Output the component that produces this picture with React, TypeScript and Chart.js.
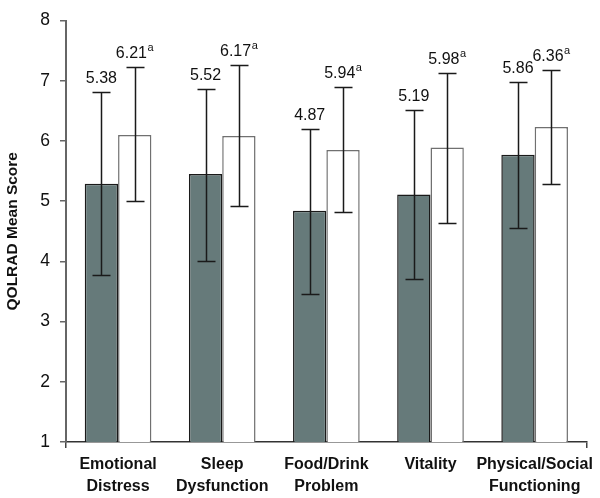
import React, { useEffect, useRef } from "react";
import { Chart, registerables } from "chart.js";

Chart.register(...registerables);

const FONT = '"Liberation Sans", Arial, Helvetica, sans-serif';

const categories: string[][] = [
  ["Emotional", "Distress"],
  ["Sleep", "Dysfunction"],
  ["Food/Drink", "Problem"],
  ["Vitality"],
  ["Physical/Social", "Functioning"],
];

// bar heights as drawn
const darkValues = [5.29, 5.45, 4.84, 5.11, 5.77];
const whiteValues = [6.1, 6.08, 5.85, 5.89, 6.23];

// error bar ends
const darkLow = [3.78, 4.01, 3.46, 3.71, 4.56];
const darkHigh = [6.82, 6.87, 6.19, 6.52, 6.98];
const whiteLow = [5.0, 4.92, 4.82, 4.64, 5.28];
const whiteHigh = [7.22, 7.26, 6.9, 7.13, 7.18];

// printed value labels
const darkLabels = ["5.38", "5.52", "4.87", "5.19", "5.86"];
const whiteLabels = ["6.21", "6.17", "5.94", "5.98", "6.36"];
const whiteSup = "a";

const yTicks = [1, 2, 3, 4, 5, 6, 7, 8];

const errorPlugin = {
  id: "errorBarsAndLabels",
  afterDatasetsDraw(chart: any) {
    const ctx = chart.ctx as CanvasRenderingContext2D;
    const yScale = chart.scales.y;
    const groups = [
      { low: darkLow, high: darkHigh, labels: darkLabels, sup: "" },
      { low: whiteLow, high: whiteHigh, labels: whiteLabels, sup: whiteSup },
    ];
    groups.forEach((g, di) => {
      const meta = chart.getDatasetMeta(di);
      meta.data.forEach((bar: any, i: number) => {
        const x = Math.round(bar.x) + 0.5;
        const yl = Math.round(yScale.getPixelForValue(g.low[i])) + 0.5;
        const yh = Math.round(yScale.getPixelForValue(g.high[i])) + 0.5;
        ctx.save();
        ctx.strokeStyle = "#1a1a1a";
        ctx.lineWidth = 1.5;
        ctx.beginPath();
        ctx.moveTo(x, yl);
        ctx.lineTo(x, yh);
        ctx.moveTo(x - 9, yh);
        ctx.lineTo(x + 9, yh);
        ctx.moveTo(x - 9, yl);
        ctx.lineTo(x + 9, yl);
        ctx.stroke();

        const text = g.labels[i];
        ctx.font = `16px ${FONT}`;
        const tw = ctx.measureText(text).width;
        let sw = 0;
        if (g.sup) {
          ctx.font = `11px ${FONT}`;
          sw = ctx.measureText(g.sup).width + 0.5;
        }
        const left = bar.x - (tw + sw) / 2;
        const base = yh - 10;
        ctx.fillStyle = "#111";
        ctx.textAlign = "left";
        ctx.textBaseline = "alphabetic";
        ctx.font = `16px ${FONT}`;
        ctx.fillText(text, left, base);
        if (g.sup) {
          ctx.font = `11px ${FONT}`;
          ctx.fillText(g.sup, left + tw + 0.5, base - 7);
        }
        ctx.restore();
      });
    });
  },
};

export default function App() {
  const ref = useRef<HTMLCanvasElement>(null);

  useEffect(() => {
    document.body.style.margin = "0";
    const chart = new Chart(ref.current as HTMLCanvasElement, {
      type: "bar",
      data: {
        labels: categories as any,
        datasets: [
          {
            data: darkValues,
            backgroundColor: "#667a7a",
            borderColor: "#1a1a1a",
            borderWidth: 1.5,
          },
          {
            data: whiteValues,
            backgroundColor: "#ffffff",
            borderColor: "#707070",
            borderWidth: 1.5,
          },
        ],
      },
      options: {
        responsive: false,
        animation: false,
        layout: { padding: { top: 6, right: 11, left: 0, bottom: 0 } },
        datasets: { bar: { categoryPercentage: 0.64, barPercentage: 1 } } as any,
        plugins: {
          legend: { display: false },
          tooltip: { enabled: false },
        },
        scales: {
          x: {
            offset: true,
            grid: {
              offset: true,
              drawOnChartArea: false,
              drawTicks: true,
              tickLength: 6,
              lineWidth: 1.5,
              color: (c: any) =>
                c.type === "scale" || c.index === 0 ? "#444" : "rgba(0,0,0,0)",
            },
            border: { display: true, color: "#333", width: 1.5 },
            ticks: {
              autoSkip: false,
              maxRotation: 0,
              padding: 6,
              color: "#111",
              font: { family: FONT, size: 16, weight: "bold", lineHeight: 1.375 },
            },
            afterFit: (s: any) => {
              s.height = 56;
            },
          },
          y: {
            min: yTicks[0],
            max: yTicks[yTicks.length - 1],
            afterBuildTicks: (s: any) => {
              s.ticks = yTicks.map((v) => ({ value: v }));
            },
            ticks: {
              stepSize: 1,
              padding: 10,
              color: "#111",
              font: { family: FONT, size: 17.5 },
            },
            grid: {
              drawOnChartArea: false,
              drawTicks: true,
              tickLength: 6,
              color: "#666",
              lineWidth: 1.5,
            },
            border: { display: true, color: "#666", width: 2 },
            title: {
              display: true,
              text: "QOLRAD Mean Score",
              color: "#111",
              font: { family: FONT, size: 15.5, weight: "bold" },
              padding: { top: 3, bottom: 0 },
            },
            afterFit: (s: any) => {
              s.width = 66;
            },
          },
        },
      },
      plugins: [errorPlugin],
    });
    return () => chart.destroy();
  }, []);

  return (
    <div style={{ width: 600, height: 498 }}>
      <canvas ref={ref} width={600} height={498} style={{ display: "block" }} />
    </div>
  );
}
